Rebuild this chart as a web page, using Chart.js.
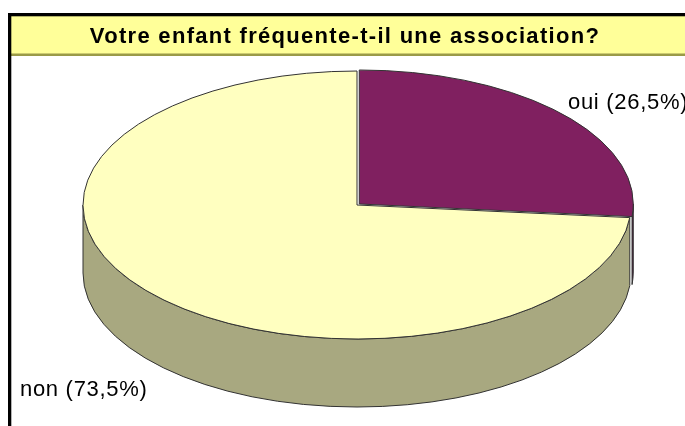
<!DOCTYPE html>
<html>
<head>
<meta charset="utf-8">
<script src="https://cdn.jsdelivr.net/npm/chart.js@4/dist/chart.umd.min.js"></script>
<style>
html,body{margin:0;padding:0;background:#fff;overflow:hidden}
#wrap{position:relative;width:685px;height:426px}
canvas{display:block}
</style>
</head>
<body>
<div id="wrap"><canvas id="c" width="685" height="426"></canvas></div>
<script>
// ---- data ----
const chartTitle = 'Votre enfant fréquente-t-il une association?';
const categories = ['oui', 'non'];
const percentages = [26.5, 73.5];
const tickLabels = categories.map((c, i) => c + ' (' + String(percentages[i]).replace('.', ',') + '%)');

// ---- styles ----
const topColors = ['#802060', '#FFFFC0'];
const sideColors = ['#4A1238', '#A8A880'];
const explode = [6, 0];
const labelPos = [[568, 109], [20, 396]];
const ASPECT = 274 / 134;   // horizontal stretch of the tilted pie
const DEPTH = 68;           // thickness of the 3D rim
const FONT = '"Liberation Sans", Arial, sans-serif';

function geom(el) {
  const off = (el.options.offset || 0) / 4;
  const half = (el.startAngle + el.endAngle) / 2;
  return {
    cx: el.x + Math.cos(half) * off * ASPECT,
    cy: el.y + Math.sin(half) * off,
    rx: el.outerRadius * ASPECT,
    ry: el.outerRadius,
    s: el.startAngle,
    e: el.endAngle
  };
}
function frontParts(s, e) {
  const parts = [];
  for (const k of [-2, 0, 2]) {
    const a = Math.max(s, k * Math.PI), b = Math.min(e, (k + 1) * Math.PI);
    if (b > a) parts.push([a, b]);
  }
  return parts;
}

const pie3d = {
  id: 'pie3d',
  beforeDraw(chart) {
    const ctx = chart.ctx, W = chart.width, H = chart.height;
    ctx.save();
    ctx.fillStyle = '#fff';
    ctx.fillRect(0, 0, W, H);
    ctx.fillStyle = '#FFFF99';
    ctx.fillRect(11, 16, W - 11, 38);
    ctx.fillStyle = '#9A9A48';
    ctx.fillRect(11, 53.5, W - 11, 2.5);
    ctx.fillStyle = '#000';
    ctx.fillRect(8, 13, W - 8, 3.3);
    ctx.fillRect(8, 13, 3.3, H - 13);
    ctx.font = 'bold 22px ' + FONT;
    ctx.letterSpacing = '1.3px';
    ctx.textAlign = 'center';
    ctx.textBaseline = 'alphabetic';
    ctx.fillText(chartTitle, 345, 43);
    ctx.restore();
  },
  beforeDatasetsDraw(chart) {
    const ctx = chart.ctx;
    const arcs = chart.getDatasetMeta(0).data;
    ctx.save();
    ctx.lineWidth = 1;
    ctx.strokeStyle = '#333';
    arcs.forEach((el, i) => {
      const g = geom(el);
      frontParts(g.s, g.e).forEach(([a, b]) => {
        ctx.beginPath();
        ctx.ellipse(g.cx, g.cy, g.rx, g.ry, 0, a, b, false);
        ctx.ellipse(g.cx, g.cy + DEPTH, g.rx, g.ry, 0, b, a, true);
        ctx.closePath();
        ctx.fillStyle = sideColors[i];
        ctx.fill();
        ctx.stroke();
      });
    });
    ctx.restore();
    const cx = arcs[0].x;
    ctx.save();
    ctx.translate(cx, 0);
    ctx.scale(ASPECT, 1);
    ctx.translate(-cx, 0);
  },
  afterDatasetsDraw(chart) {
    const ctx = chart.ctx;
    ctx.restore();
    const arcs = chart.getDatasetMeta(0).data;
    ctx.save();
    ctx.lineWidth = 1;
    ctx.strokeStyle = '#333';
    arcs.forEach((el) => {
      const g = geom(el);
      ctx.beginPath();
      ctx.moveTo(g.cx, g.cy);
      ctx.ellipse(g.cx, g.cy, g.rx, g.ry, 0, g.s, g.e, false);
      ctx.closePath();
      ctx.stroke();
    });
    ctx.restore();
  },
  afterDraw(chart) {
    const ctx = chart.ctx;
    ctx.save();
    ctx.font = '22px ' + FONT;
    ctx.letterSpacing = '0.7px';
    ctx.fillStyle = '#000';
    ctx.textAlign = 'left';
    ctx.textBaseline = 'alphabetic';
    tickLabels.forEach((t, i) => ctx.fillText(t, labelPos[i][0], labelPos[i][1]));
    ctx.restore();
  }
};

new Chart(document.getElementById('c'), {
  type: 'pie',
  data: {
    labels: categories,
    datasets: [{
      data: percentages,
      backgroundColor: topColors,
      borderWidth: 0,
      offset: explode,
      hoverOffset: 0,
      clip: false
    }]
  },
  options: {
    responsive: false,
    animation: false,
    events: [],
    layout: { padding: { top: 68, bottom: 84, left: 220, right: 191 } },
    plugins: {
      legend: { display: false },
      tooltip: { enabled: false },
      title: { display: false }
    }
  },
  plugins: [pie3d]
});
</script>
</body>
</html>
